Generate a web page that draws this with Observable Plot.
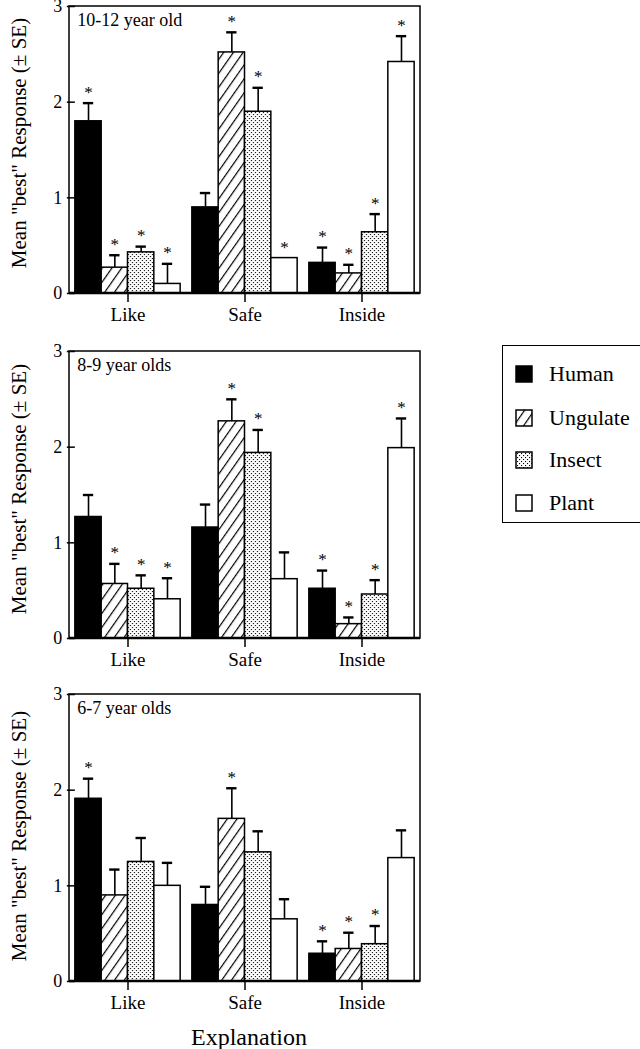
<!DOCTYPE html>
<html><head><meta charset="utf-8">
<script src="https://cdn.jsdelivr.net/npm/d3@7"></script>
<script src="https://cdn.jsdelivr.net/npm/@observablehq/plot@0.6"></script>
<style>
body{margin:0;background:#fff;font-family:"Liberation Serif",serif;}
#wrap{position:relative;width:640px;height:1049px;overflow:hidden;background:#fff;}
.panel{position:absolute;left:0;}
.panel text{font-family:"Liberation Serif",serif;}
.ylab{position:absolute;left:19px;white-space:nowrap;font-size:21px;transform:translate(-50%,-50%) rotate(-90deg);}
.xtitle{position:absolute;left:249px;top:1037px;transform:translate(-50%,-50%);font-size:24px;white-space:nowrap;}
#legend{position:absolute;left:502px;top:345px;width:160px;height:178px;border:1.5px solid #000;box-sizing:border-box;}
.li{position:absolute;left:12px;height:24px;display:flex;align-items:center;font-size:22px;transform:translateY(-50%);}
.li svg{margin-right:16px;}
</style></head><body>
<svg width="0" height="0" style="position:absolute">
  <defs>
    <pattern id="hatch" patternUnits="userSpaceOnUse" width="8" height="8" patternTransform="rotate(35)">
      <rect width="8" height="8" fill="#fff"/>
      <line x1="0.6" y1="0" x2="0.6" y2="8" stroke="#000" stroke-width="1.2"/>
    </pattern>
    <pattern id="dots" patternUnits="userSpaceOnUse" width="4" height="4">
      <rect width="4" height="4" fill="#fff"/>
      <rect x="0" y="0" width="1.1" height="1.1" fill="#000"/>
      <rect x="2" y="2" width="1.1" height="1.1" fill="#000"/>
    </pattern>
  </defs>
</svg>
<div id="wrap"></div>
<script>
// ---- data ----
const explanations = ["Like", "Safe", "Inside"];
const species = ["Human", "Ungulate", "Insect", "Plant"];
const ageLabels = ["10-12 year old", "8-9 year olds", "6-7 year olds"];
// values listed by explanation (Like, Safe, Inside), then species order
const mean1012 = [1.80, 0.27, 0.43, 0.10,  0.90, 2.52, 1.90, 0.37,  0.32, 0.21, 0.64, 2.42];
const se1012   = [0.19, 0.13, 0.06, 0.21,  0.15, 0.21, 0.25, 0.00,  0.16, 0.09, 0.19, 0.27];
const star1012 = [1, 1, 1, 1,  0, 1, 1, 1,  1, 1, 1, 1];
const mean89   = [1.27, 0.57, 0.52, 0.41,  1.16, 2.27, 1.94, 0.62,  0.52, 0.15, 0.46, 1.99];
const se89     = [0.23, 0.21, 0.14, 0.22,  0.24, 0.23, 0.24, 0.28,  0.19, 0.07, 0.15, 0.31];
const star89   = [0, 1, 1, 1,  0, 1, 1, 0,  1, 1, 1, 1];
const mean67   = [1.91, 0.90, 1.25, 1.00,  0.80, 1.70, 1.35, 0.65,  0.29, 0.34, 0.39, 1.29];
const se67     = [0.21, 0.27, 0.25, 0.24,  0.19, 0.32, 0.22, 0.21,  0.13, 0.17, 0.19, 0.29];
const star67   = [1, 0, 0, 0,  0, 1, 0, 0,  1, 1, 1, 0];
const yTicks = [0, 1, 2, 3];
const yLabel = "Mean \"best\" Response (\u00B1 SE)";
const xTitle = "Explanation";

// ---- styles ----
const fills = {Human: "#000", Ungulate: "url(#hatch)", Insect: "url(#dots)", Plant: "#fff"};
const W = 430, H = 323, ML = 69, MR = 10, MT = 6, MB = 30;
const panelTops = [0, 345, 688];
const labelCenters = [143, 489, 836];

function rows(means, ses, stars) {
  const out = [];
  explanations.forEach((e, i) => species.forEach((s, j) => {
    const k = i * species.length + j;
    out.push({explanation: e, species: s, mean: means[k], se: ses[k], star: stars[k]});
  }));
  return out;
}
const panels = [
  rows(mean1012, se1012, star1012),
  rows(mean89, se89, star89),
  rows(mean67, se67, star67)
];

const wrap = document.getElementById("wrap");

panels.forEach((data, p) => {
  const withErr = data.filter(d => d.se > 0);
  const svg = Plot.plot({
    width: W, height: H,
    marginLeft: ML, marginRight: MR, marginTop: MT, marginBottom: MB,
    style: {fontFamily: "\"Liberation Serif\", serif", fontSize: "18px", background: "transparent", overflow: "visible"},
    fx: {domain: explanations, paddingInner: 0.1, paddingOuter: 0.05, round: false, label: null},
    x: {domain: species, padding: 0, axis: null, round: false},
    y: {domain: [0, 3], axis: null},
    color: {type: "identity"},
    marks: [
      Plot.barY(data, {fx: "explanation", x: "species", y: "mean",
        fill: d => fills[d.species], stroke: "#000", strokeWidth: 1.5}),
      Plot.ruleX(withErr, {fx: "explanation", x: "species", y1: "mean", y2: d => d.mean + d.se,
        stroke: "#000", strokeWidth: 1.6}),
      Plot.tickY(withErr, {fx: "explanation", x: "species", y: d => d.mean + d.se,
        stroke: "#000", strokeWidth: 2.4, insetLeft: 8, insetRight: 8}),
      Plot.text(data.filter(d => d.star), {fx: "explanation", x: "species", y: d => d.mean + d.se,
        text: () => "*", dy: -11, fontSize: 17}),
      Plot.text([ageLabels[p]], {fx: () => explanations[0], frameAnchor: "top-left",
        text: d => d, textAnchor: "start", lineAnchor: "top", dx: 2, dy: 7, fontSize: 18}),
      Plot.axisY({ticks: yTicks, tickFormat: d => d, tickSize: 8, tickPadding: 5, label: null, strokeWidth: 1.5, fontSize: 18}),
      Plot.axisFx({anchor: "bottom", tickSize: 9, tickPadding: 5, label: null, strokeWidth: 1.5, fontSize: 19})
    ]
  });
  svg.classList.add("panel");
  svg.style.top = panelTops[p] + "px";
  const s = d3.select(svg);
  s.append("rect").attr("x", ML).attr("y", MT)
    .attr("width", W - ML - MR).attr("height", H - MT - MB)
    .attr("fill", "none").attr("stroke", "#000").attr("stroke-width", 1.5);
  s.append("line").attr("x1", ML).attr("x2", W - MR)
    .attr("y1", H - MB).attr("y2", H - MB)
    .attr("stroke", "#000").attr("stroke-width", 2.5);
  wrap.appendChild(svg);

  const yl = document.createElement("div");
  yl.className = "ylab";
  yl.style.top = labelCenters[p] + "px";
  yl.textContent = yLabel;
  wrap.appendChild(yl);
});

const xt = document.createElement("div");
xt.className = "xtitle";
xt.textContent = xTitle;
wrap.appendChild(xt);

// legend
const legend = document.createElement("div");
legend.id = "legend";
const itemTops = [28, 72, 114, 157];
species.forEach((s, i) => {
  const it = document.createElement("div");
  it.className = "li";
  it.style.top = itemTops[i] + "px";
  it.innerHTML = `<svg width="18" height="18"><rect x="1" y="1" width="16" height="16" fill="${fills[s]}" stroke="#000" stroke-width="1.5"/></svg><span>${s}</span>`;
  legend.appendChild(it);
});
wrap.appendChild(legend);
</script>
</body></html>
